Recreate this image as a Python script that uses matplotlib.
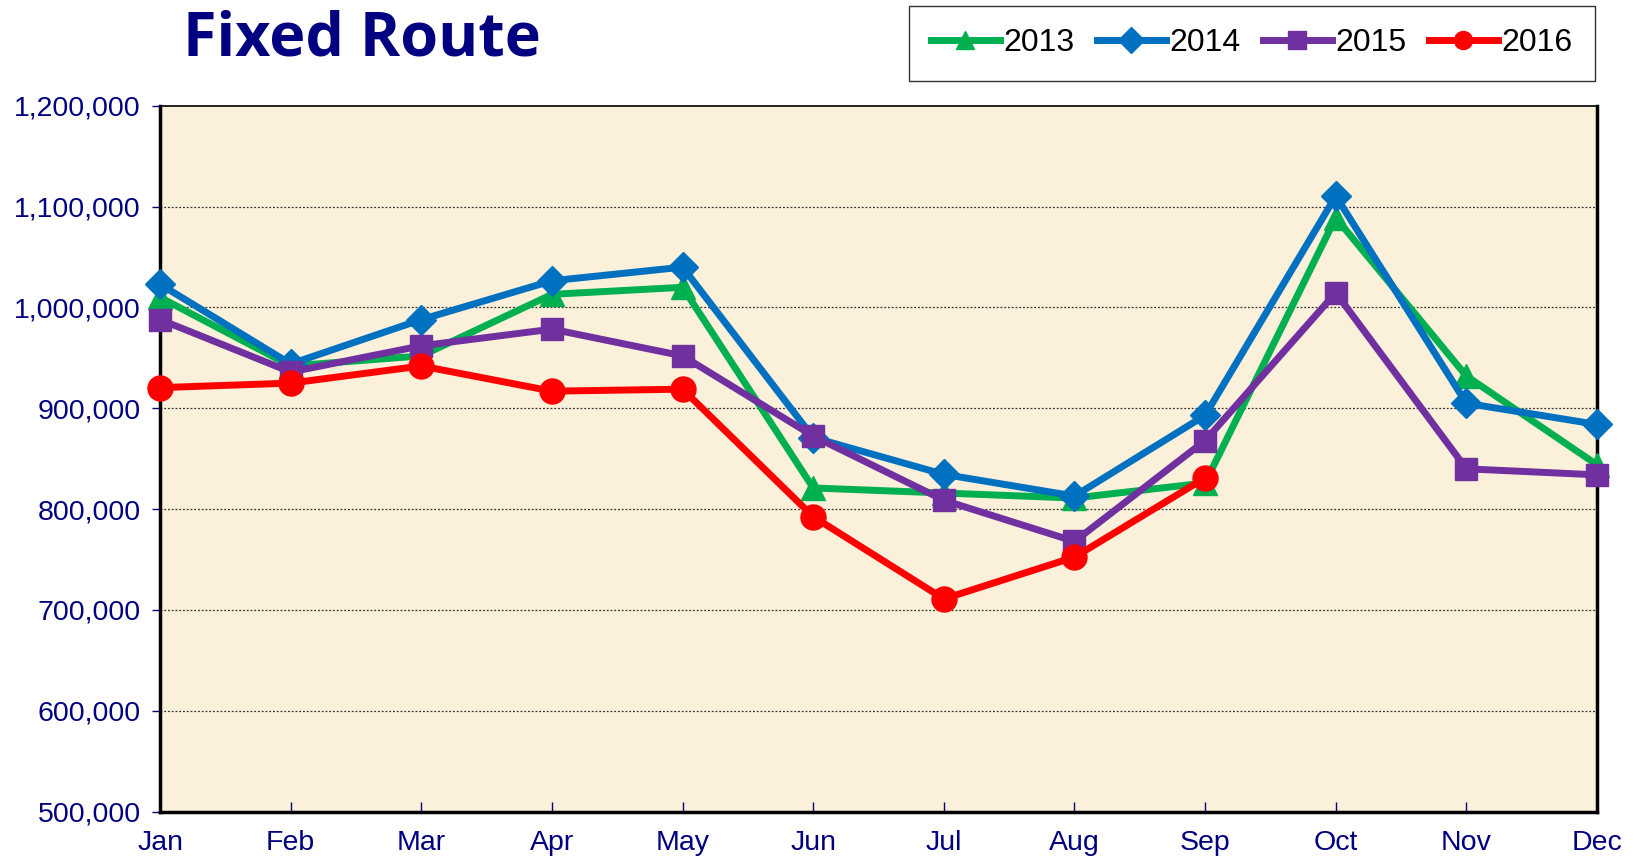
import matplotlib.pyplot as plt
from matplotlib.ticker import FuncFormatter

# Monthly ridership
months = ['Jan', 'Feb', 'Mar', 'Apr', 'May', 'Jun',
          'Jul', 'Aug', 'Sep', 'Oct', 'Nov', 'Dec']
y2013 = [1010000, 942000, 952000, 1013000, 1020000, 821000,
         816000, 811000, 826000, 1089000, 932000, 844000]
y2014 = [1023000, 944000, 988000, 1026500, 1040000, 871000,
         834500, 813000, 893000, 1110500, 905000, 884000]
y2015 = [988000, 936000, 962000, 978500, 952000, 872500,
         808800, 768000, 868000, 1014600, 840000, 834000]
y2016 = [920500, 925000, 942000, 917000, 919000, 792500,
         711000, 752500, 831000]

navy = '#000080'
plt.rcParams['font.family'] = ['Liberation Sans', 'DejaVu Sans']

fig = plt.figure(figsize=(16.42, 8.58), dpi=100)
fig.patch.set_facecolor('white')
ax = fig.add_axes([0.0975, 0.054, 0.8751, 0.8227])
ax.set_facecolor('#FBF0DA')

x = list(range(len(months)))

# series: (values, label, color, marker, markersize)
series = [
    (y2013, '2013', '#00B050', '^', 17),
    (y2014, '2014', '#0070C0', 'D', 15),
    (y2015, '2015', '#7030A0', 's', 16),
    (y2016, '2016', '#FF0000', 'o', 18),
]
for vals, lab, col, mk, ms in series:
    ax.plot(x[:len(vals)], vals, color=col, lw=5, marker=mk, ms=ms,
            label=lab, clip_on=False, zorder=3, solid_joinstyle='miter')

ax.set_xlim(0, 11)
ax.set_ylim(500000, 1200000)
ax.set_xticks(x)
ax.set_xticklabels(months)
ax.set_yticks(range(500000, 1200001, 100000))
ax.yaxis.set_major_formatter(FuncFormatter(lambda v, p: f'{int(v):,}'))

ax.tick_params(axis='x', direction='in', length=7, width=1, color=navy,
               labelsize=20.5, labelcolor=navy, pad=13)
ax.tick_params(axis='y', direction='out', length=6, width=1, color=navy,
               labelsize=20.5, labelcolor=navy, pad=8)

for yv in range(600000, 1200000, 100000):
    ax.axhline(yv, color='#333333', lw=0.9, ls=(0, (1.5, 1.5)), zorder=1)

for side in ['left', 'bottom', 'right']:
    ax.spines[side].set_linewidth(2.5)
    ax.spines[side].set_color('black')
ax.spines['top'].set_linewidth(1.2)
ax.spines['top'].set_color('black')

# Title
fig.text(183 / 1642, 1 - 40 / 858, 'Fixed Route', ha='left', va='center',
         fontsize=44, fontweight='bold', color=navy, family='Open Sans')

# Legend
leg = fig.legend(loc='upper right', bbox_to_anchor=(1595 / 1642, 1 - 6 / 858),
                 ncol=4, fontsize=23, frameon=True, fancybox=False,
                 edgecolor='black', handlelength=2.15, handletextpad=0.12,
                 columnspacing=0.7, borderpad=0.7, borderaxespad=0)
leg.get_frame().set_linewidth(1.0)
for h in leg.legend_handles:
    h.set_markersize(13)

fig.savefig('out.png', dpi=100, facecolor='white')
